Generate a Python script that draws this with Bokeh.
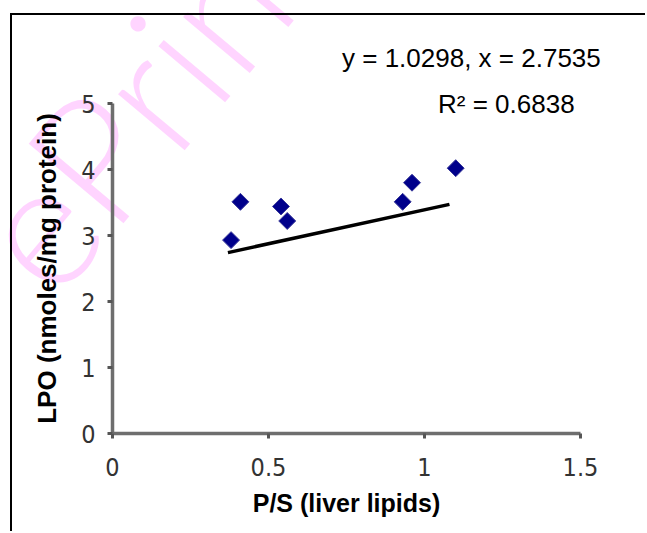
from bokeh.plotting import figure
from bokeh.layouts import column
from bokeh.models import Range1d, FixedTicker, Div
from bokeh.embed import file_html
from bokeh.resources import INLINE

# P/S ratio of liver lipids against lipid peroxidation
ps_ratio = [0.38, 0.41, 0.54, 0.56, 0.93, 0.96, 1.10]
lpo = [2.93, 3.51, 3.44, 3.22, 3.51, 3.80, 4.02]

# straight trend line drawn across the data
trend_slope = 1.0298
trend_intercept = 2.36
trend_x = [0.37, 1.08]
trend_y = [trend_slope * x + trend_intercept for x in trend_x]

x_ticks = [0, 0.5, 1, 1.5]
x_tick_labels = ["0", "0.5", "1", "1.5"]
y_ticks = [0, 1, 2, 3, 4, 5]
y_tick_labels = ["0", "1", "2", "3", "4", "5"]

eq_text = "y = 1.0298, x = 2.7535"
r2_text = "R\u00b2 = 0.6838"
stamp_text = "ePrints"

SANS = "Liberation Sans, Arial, sans-serif"
NARROW = "Liberation Sans Narrow, DejaVu Sans Condensed, sans-serif"

# page sheet behind the chart: faint repository stamp and the regression text box
sheet_html = f"""
<div style="position:relative;width:647px;height:533px;overflow:hidden;background:#fff;">
  <span style="position:absolute;left:55px;top:150px;white-space:nowrap;
               font-family:Lato,'Liberation Sans',sans-serif;font-weight:300;
               font-size:175px;line-height:1;color:rgba(255,0,255,0.17);
               transform-origin:0px 155px;transform:rotate(-50deg);">{stamp_text}</span>
  <span style="position:absolute;left:342px;top:45px;white-space:nowrap;
               font-family:{SANS};font-size:26px;line-height:1;color:#000;">{eq_text}</span>
  <span style="position:absolute;left:438px;top:91px;white-space:nowrap;
               font-family:{SANS};font-size:26px;line-height:1;color:#000;">{r2_text}</span>
</div>
"""
sheet = Div(text=sheet_html, width=647, height=533, margin=0)

p = figure(
    width=635, height=518,
    x_range=Range1d(0, 1.5), y_range=Range1d(0, 5),
    output_backend="svg", toolbar_location=None,
    min_border_left=100, min_border_right=67,
    min_border_top=88, min_border_bottom=100,
    margin=(13, 0, 0, 10),
    styles={"position": "absolute", "top": "0px", "left": "0px",
            "border-top": "2px solid #000", "border-left": "2px solid #000"},
    background_fill_color=None, border_fill_color=None,
)
p.outline_line_color = None
p.xgrid.visible = False
p.ygrid.visible = False

for ax in (p.xaxis[0], p.yaxis[0]):
    ax.axis_line_color = "#6e6e6e"
    ax.axis_line_width = 3.5
    ax.major_tick_line_color = "#555555"
    ax.major_tick_line_width = 3
    ax.major_tick_out = 5
    ax.major_tick_in = 0
    ax.minor_tick_line_color = None
    ax.major_label_text_font = NARROW
    ax.major_label_text_font_size = "25px"
    ax.major_label_text_color = "#333333"
    ax.axis_label_text_font = SANS
    ax.axis_label_text_font_style = "bold"
    ax.axis_label_text_color = "black"

p.xaxis.ticker = FixedTicker(ticks=x_ticks)
p.xaxis.major_label_overrides = dict(zip(x_ticks, x_tick_labels))
p.xaxis.major_label_standoff = 19
p.xaxis.axis_label = "P/S (liver lipids)"
p.xaxis.axis_label_text_font_size = "25px"
p.xaxis.axis_label_standoff = 10

p.yaxis.ticker = FixedTicker(ticks=y_ticks)
p.yaxis.major_label_overrides = dict(zip(y_ticks, y_tick_labels))
p.yaxis.major_label_standoff = 12
p.yaxis.axis_label = "LPO (nmoles/mg protein)"
p.yaxis.axis_label_text_font_size = "26px"
p.yaxis.axis_label_standoff = 16

p.line(trend_x, trend_y, line_color="black", line_width=3.5)
p.scatter(ps_ratio, lpo, marker="square", angle=0.785398, size=12,
          fill_color="#00008b", line_color="#3a3a9a", line_width=1)

page = column(sheet, p)
open("out.html", "w").write(file_html(page, INLINE))
